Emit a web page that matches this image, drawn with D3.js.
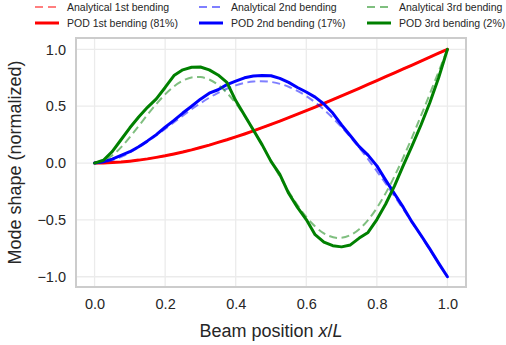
<!DOCTYPE html>
<html><head><meta charset="utf-8">
<script src="https://cdn.jsdelivr.net/npm/d3@7"></script>
<style>
html,body{margin:0;padding:0;background:#fff;}
svg{display:block;font-family:"Liberation Sans",Arial,sans-serif;}
</style></head>
<body><svg id="chart" width="506" height="345"></svg>
<script>
// ---- data ----
const xAnalytical = [0,0.05,0.1,0.15,0.2,0.25,0.3,0.35,0.4,0.45,0.5,0.55,0.6,0.65,0.7,0.75,0.8,0.85,0.9,0.95,1];
const analytical1 = [0,0.0043,0.0168,0.0368,0.0639,0.0973,0.1365,0.1819,0.2299,0.2830,0.3395,0.3991,0.4611,0.5252,0.5909,0.6577,0.7255,0.7938,0.8624,0.9312,1];
const analytical2 = [0,0.0254,0.0926,0.1888,0.3010,0.4173,0.5261,0.6177,0.6834,0.7170,0.7136,0.6711,0.5894,0.4700,0.3168,0.1347,-0.0704,-0.2921,-0.5240,-0.7618,-1];
const analytical3 = [0,0.0670,0.2281,0.4248,0.6045,0.7245,0.7564,0.6881,0.5259,0.2918,0.0198,-0.2492,-0.4738,-0.6180,-0.6574,-0.5814,-0.3948,-0.1157,0.2287,0.6087,1];

const xPOD = [0,0.025,0.05,0.075,0.1,0.125,0.15,0.175,0.2,0.225,0.25,0.275,0.3,0.325,0.35,0.375,0.4,0.425,0.45,0.475,0.5,0.525,0.55,0.575,0.6,0.625,0.65,0.675,0.7,0.725,0.75,0.775,0.8,0.825,0.85,0.875,0.9,0.925,0.95,0.975,1];
const pod1 = [0,0.0012,0.0045,0.009,0.017,0.026,0.037,0.050,0.064,0.080,0.097,0.116,0.137,0.158,0.182,0.205,0.230,0.256,0.283,0.311,0.340,0.369,0.399,0.430,0.461,0.493,0.525,0.558,0.591,0.624,0.658,0.692,0.726,0.760,0.794,0.828,0.862,0.897,0.931,0.966,1];
const pod2 = [0,0.012,0.035,0.067,0.100,0.143,0.195,0.250,0.315,0.375,0.440,0.500,0.562,0.615,0.645,0.690,0.720,0.750,0.765,0.771,0.768,0.745,0.710,0.665,0.625,0.580,0.520,0.440,0.335,0.240,0.145,0.070,-0.025,-0.150,-0.270,-0.390,-0.520,-0.635,-0.755,-0.880,-1];
const pod3 = [0,0.025,0.100,0.205,0.310,0.405,0.490,0.565,0.665,0.770,0.820,0.843,0.845,0.820,0.775,0.710,0.550,0.420,0.290,0.160,0.015,-0.100,-0.266,-0.390,-0.497,-0.630,-0.695,-0.727,-0.737,-0.720,-0.660,-0.610,-0.497,-0.360,-0.200,-0.020,0.154,0.335,0.530,0.750,1];

const xTicks = [0,0.2,0.4,0.6,0.8,1.0];
const yTicks = [-1,-0.5,0,0.5,1];
const legendLabels = ["Analytical 1st bending","POD 1st bending (81%)","Analytical 2nd bending","POD 2nd bending (17%)","Analytical 3rd bending","POD 3rd bending (2%)"];
const colors = ["#ff0000","#0000ff","#008000"];

// ---- layout ----
const svg = d3.select("#chart");
const L = 76, R = 466, T = 38, B = 287;
const x = d3.scaleLinear().domain([-0.0526,1.0526]).range([L,R]);
const y = d3.scaleLinear().domain([-1.09,1.1]).range([B,T]);

// grid
const g = svg.append("g");
g.selectAll(".vx").data(xTicks).join("line")
  .attr("x1",d=>x(d)).attr("x2",d=>x(d)).attr("y1",T).attr("y2",B)
  .attr("stroke","#ebebeb").attr("stroke-width",1.3);
g.selectAll(".hy").data(yTicks).join("line")
  .attr("y1",d=>y(d)).attr("y2",d=>y(d)).attr("x1",L).attr("x2",R)
  .attr("stroke","#ebebeb").attr("stroke-width",1.3);

// axes labels via d3 axes
const fmt = d => (d<0?"\u2212":"") + Math.abs(d).toFixed(1);
const xAxis = svg.append("g").attr("transform",`translate(0,${B})`)
  .call(d3.axisBottom(x).tickValues(xTicks).tickFormat(fmt).tickSize(0).tickPadding(12));
const yAxis = svg.append("g").attr("transform",`translate(${L},0)`)
  .call(d3.axisLeft(y).tickValues(yTicks).tickFormat(fmt).tickSize(0).tickPadding(10));
[xAxis,yAxis].forEach(a=>{
  a.select(".domain").remove();
  a.selectAll("text").attr("font-size",14.5).attr("fill","#262626")
   .attr("font-family","'Liberation Sans',Arial,sans-serif");
});

// lines
const lineSmooth = d3.line().curve(d3.curveNatural).x(d=>x(d[0])).y(d=>y(d[1]));
const lineLin = d3.line().x(d=>x(d[0])).y(d=>y(d[1]));
const an = [analytical1,analytical2,analytical3];
const pd = [pod1,pod2,pod3];
const plot = svg.append("g");
for (let i=0;i<3;i++){
  plot.append("path").attr("d",lineSmooth(xAnalytical.map((v,k)=>[v,an[i][k]])))
    .attr("fill","none").attr("stroke",colors[i]).attr("stroke-opacity",0.5)
    .attr("stroke-width",2).attr("stroke-dasharray","8,4.5");
  plot.append("path").attr("d",lineLin(xPOD.map((v,k)=>[v,pd[i][k]])))
    .attr("fill","none").attr("stroke",colors[i])
    .attr("stroke-width",3).attr("stroke-linejoin","round").attr("stroke-linecap","round");
}

// frame
svg.append("rect").attr("x",L).attr("y",T).attr("width",R-L).attr("height",B-T)
  .attr("fill","none").attr("stroke","#cccccc").attr("stroke-width",2);

// axis titles
const xt = svg.append("text").attr("x",(L+R)/2).attr("y",337).attr("text-anchor","middle")
  .attr("font-size",18).attr("fill","#262626");
xt.append("tspan").text("Beam position ");
xt.append("tspan").attr("font-style","italic").text("x");
xt.append("tspan").text("/");
xt.append("tspan").attr("font-style","italic").text("L");
svg.append("text").attr("transform",`translate(21,${(T+B)/2}) rotate(-90)`)
  .attr("text-anchor","middle").attr("font-size",18).attr("fill","#262626")
  .text("Mode shape (normalized)");

// legend
const colX = [35,199,367];
const rowY = [7,23];
legendLabels.forEach((lab,i)=>{
  const c = Math.floor(i/2), r = i%2;
  const lg = svg.append("g");
  lg.append("line").attr("x1",colX[c]).attr("x2",colX[c]+24).attr("y1",rowY[r]).attr("y2",rowY[r])
    .attr("stroke",colors[c]).attr("stroke-opacity",r===0?0.5:1)
    .attr("stroke-width",r===0?2:3).attr("stroke-dasharray",r===0?"8,5":null);
  lg.append("text").attr("x",colX[c]+32).attr("y",rowY[r]+3.8).attr("font-size",10.5)
    .attr("fill","#262626").text(lab);
});
</script></body></html>
